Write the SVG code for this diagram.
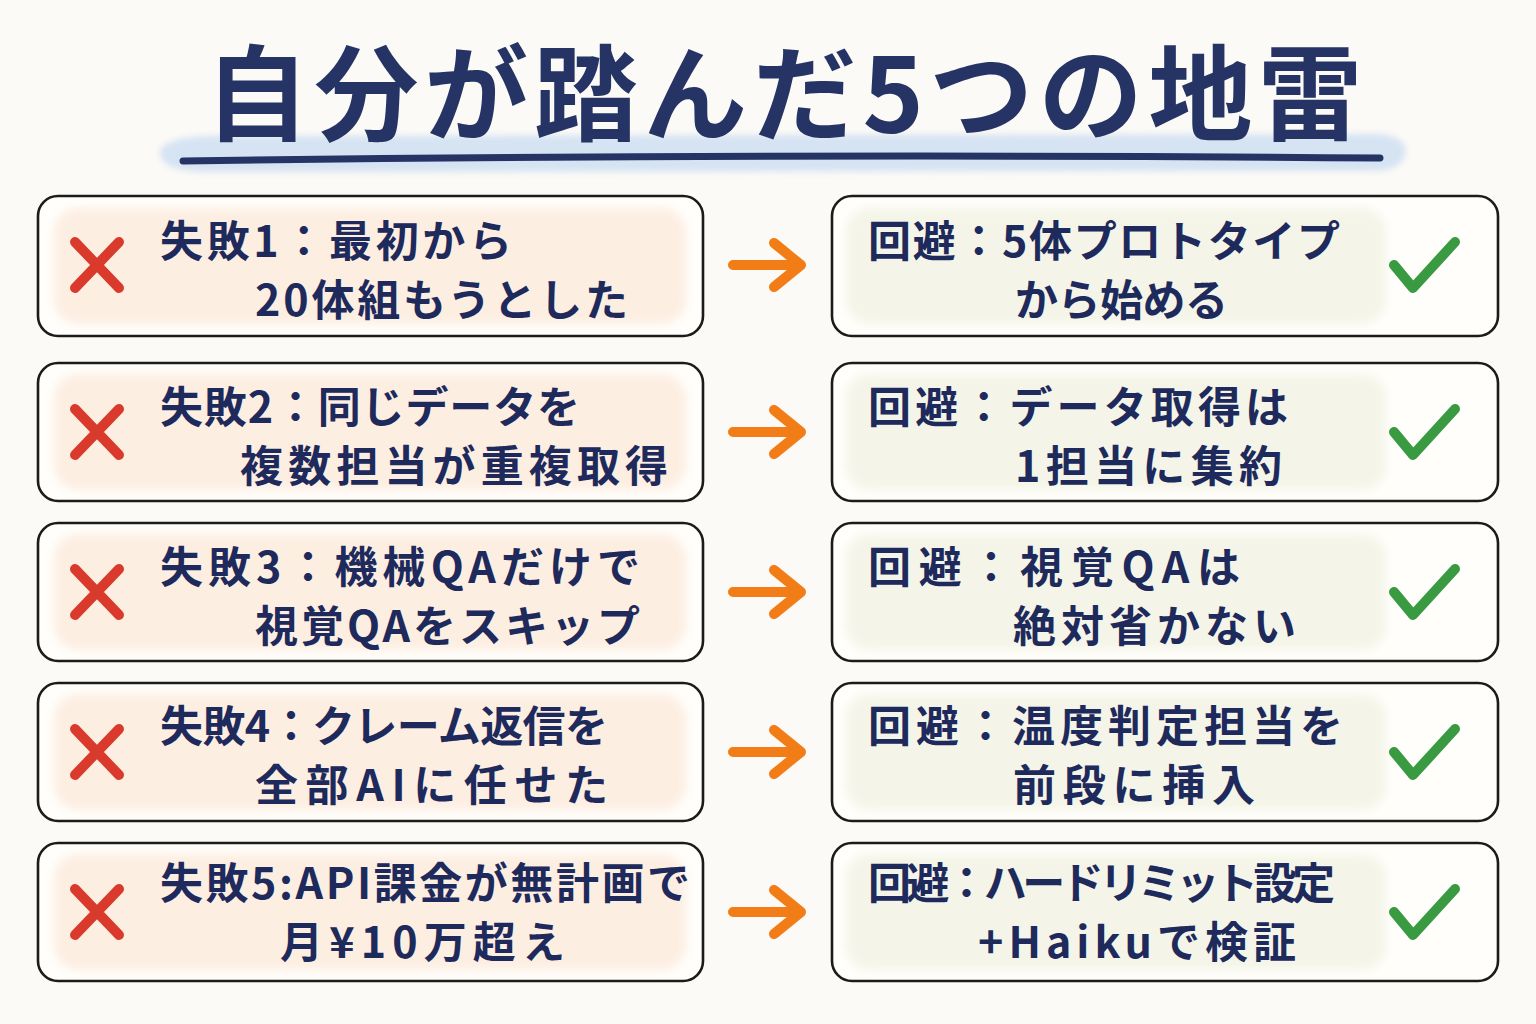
<svg xmlns="http://www.w3.org/2000/svg" width="1536" height="1024" viewBox="0 0 1536 1024">
<defs>
<style>
.t{font-family:"Noto Sans CJK JP","Noto Sans",sans-serif;font-weight:700;fill:#1e2a5c;font-size:43px}
.title{font-family:"Noto Sans CJK JP","Noto Sans",sans-serif;font-weight:700;fill:#253464;font-size:104px}
.box{fill:#fffefb;stroke:#1b1b1b;stroke-width:2.6}
.pl{fill:#fdeee2}
.pr{fill:#f4f5e8}
.x{stroke:#d93a2c;stroke-width:10;stroke-linecap:round;fill:none}
.ck{stroke:#3a9a42;stroke-width:10;stroke-linecap:round;stroke-linejoin:round;fill:none}
.ar{stroke:#f27c16;stroke-width:10;stroke-linecap:round;stroke-linejoin:round;fill:none}
</style>
<filter id="soft" x="-5%" y="-10%" width="110%" height="120%"><feGaussianBlur stdDeviation="5"/></filter>
<filter id="soft2" x="-5%" y="-50%" width="110%" height="200%"><feGaussianBlur stdDeviation="3"/></filter>
</defs>
<rect width="1536" height="1024" fill="#fbfaf6"/>
<g id="title">
<path d="M160 150 Q170 134 230 136 L1380 134 Q1410 138 1405 155 Q1400 172 1370 171 L200 172 Q158 170 160 150 Z" fill="#d5e3f3" filter="url(#soft2)"/>
<path d="M183 161 Q780 153 1380 158" stroke="#253464" stroke-width="7" stroke-linecap="round" fill="none"/>
<text class="title" x="205" y="133" textLength="1157" lengthAdjust="spacing">自分が踏んだ5つの地雷</text>
</g>
<g id="connectors">
<g class="ar"><path d="M733 265 H801 M774 243 L801 265 L774 287"/></g>
<g class="ar"><path d="M733 432 H801 M774 410 L801 432 L774 454"/></g>
<g class="ar"><path d="M733 592 H801 M774 570 L801 592 L774 614"/></g>
<g class="ar"><path d="M733 752 H801 M774 730 L801 752 L774 774"/></g>
<g class="ar"><path d="M733 912 H801 M774 890 L801 912 L774 934"/></g>
</g>
<g id="fail1">
<rect class="box" x="38" y="196" width="665" height="140" rx="20"/>
<rect class="pl" x="54" y="208" width="632" height="116" rx="24" filter="url(#soft)"/>
<path class="x" d="M75 242 L119 288 M119 242 L75 288"/>
<text class="t" x="160" y="257" textLength="352" lengthAdjust="spacing">失敗1：最初から</text>
<text class="t" x="255" y="316" textLength="373" lengthAdjust="spacing">20体組もうとした</text>
</g>
<g id="fix1">
<rect class="box" x="832" y="196" width="666" height="140" rx="20"/>
<rect class="pr" x="846" y="208" width="540" height="116" rx="24" filter="url(#soft)"/>
<text class="t" x="868" y="257" textLength="472" lengthAdjust="spacing">回避：5体プロトタイプ</text>
<text class="t" x="1015" y="316" textLength="213" lengthAdjust="spacing">から始める</text>
<path class="ck" d="M1394 265 L1413 288 L1455 242"/>
</g>
<g id="fail2">
<rect class="box" x="38" y="363" width="665" height="138" rx="20"/>
<rect class="pl" x="54" y="374" width="632" height="116" rx="24" filter="url(#soft)"/>
<path class="x" d="M75 409 L119 455 M119 409 L75 455"/>
<text class="t" x="160" y="423" textLength="420" lengthAdjust="spacing">失敗2：同じデータを</text>
<text class="t" x="240" y="482" textLength="428" lengthAdjust="spacing">複数担当が重複取得</text>
</g>
<g id="fix2">
<rect class="box" x="832" y="363" width="666" height="138" rx="20"/>
<rect class="pr" x="846" y="374" width="540" height="116" rx="24" filter="url(#soft)"/>
<text class="t" x="868" y="423" textLength="420" lengthAdjust="spacing">回避：データ取得は</text>
<text class="t" x="1015" y="482" textLength="267" lengthAdjust="spacing">1担当に集約</text>
<path class="ck" d="M1394 432 L1413 455 L1455 409"/>
</g>
<g id="fail3">
<rect class="box" x="38" y="523" width="665" height="138" rx="20"/>
<rect class="pl" x="54" y="534" width="632" height="116" rx="24" filter="url(#soft)"/>
<path class="x" d="M75 569 L119 615 M119 569 L75 615"/>
<text class="t" x="160" y="583" textLength="480" lengthAdjust="spacing">失敗3：機械QAだけで</text>
<text class="t" x="255" y="642" textLength="385" lengthAdjust="spacing">視覚QAをスキップ</text>
</g>
<g id="fix3">
<rect class="box" x="832" y="523" width="666" height="138" rx="20"/>
<rect class="pr" x="846" y="534" width="540" height="116" rx="24" filter="url(#soft)"/>
<text class="t" x="868" y="583" textLength="372" lengthAdjust="spacing">回避：視覚QAは</text>
<text class="t" x="1013" y="642" textLength="283" lengthAdjust="spacing">絶対省かない</text>
<path class="ck" d="M1394 592 L1413 615 L1455 569"/>
</g>
<g id="fail4">
<rect class="box" x="38" y="683" width="665" height="138" rx="20"/>
<rect class="pl" x="54" y="694" width="632" height="116" rx="24" filter="url(#soft)"/>
<path class="x" d="M75 729 L119 775 M119 729 L75 775"/>
<text class="t" x="160" y="742" textLength="448" lengthAdjust="spacing">失敗4：クレーム返信を</text>
<text class="t" x="255" y="801" textLength="353" lengthAdjust="spacing">全部AIに任せた</text>
</g>
<g id="fix4">
<rect class="box" x="832" y="683" width="666" height="138" rx="20"/>
<rect class="pr" x="846" y="694" width="540" height="116" rx="24" filter="url(#soft)"/>
<text class="t" x="868" y="742" textLength="475" lengthAdjust="spacing">回避：温度判定担当を</text>
<text class="t" x="1013" y="801" textLength="242" lengthAdjust="spacing">前段に挿入</text>
<path class="ck" d="M1394 752 L1413 775 L1455 729"/>
</g>
<g id="fail5">
<rect class="box" x="38" y="843" width="665" height="138" rx="20"/>
<rect class="pl" x="54" y="854" width="632" height="116" rx="24" filter="url(#soft)"/>
<path class="x" d="M75 889 L119 935 M119 889 L75 935"/>
<text class="t" x="160" y="899" textLength="530" lengthAdjust="spacing">失敗5:API課金が無計画で</text>
<text class="t" x="280" y="958" textLength="285" lengthAdjust="spacing">月¥10万超え</text>
</g>
<g id="fix5">
<rect class="box" x="832" y="843" width="666" height="138" rx="20"/>
<rect class="pr" x="846" y="854" width="540" height="116" rx="24" filter="url(#soft)"/>
<text class="t" x="868" y="899" textLength="467" lengthAdjust="spacing">回避：ハードリミット設定</text>
<text class="t" x="978" y="958" textLength="318" lengthAdjust="spacing">+Haikuで検証</text>
<path class="ck" d="M1394 912 L1413 935 L1455 889"/>
</g>
</svg>
